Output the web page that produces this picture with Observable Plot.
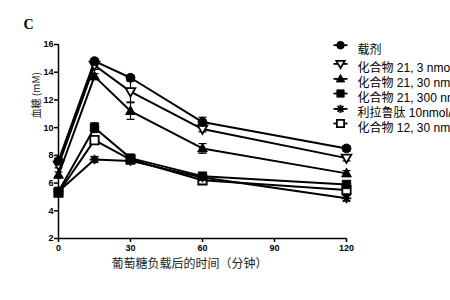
<!DOCTYPE html>
<html>
<head>
<meta charset="utf-8">
<script src="https://cdn.jsdelivr.net/npm/d3@7"></script>
<script src="https://cdn.jsdelivr.net/npm/@observablehq/plot@0.6"></script>
<style>
  html, body { margin: 0; padding: 0; background: #fff; }
</style>
</head>
<body>
<div id="chart"></div>
<script>
// ---- data ----
const times = [0, 15, 30, 60, 120];
const seriesNames = [
  "载剂",
  "化合物 21, 3 nmol/kg",
  "化合物 21, 30 nmol/kg",
  "化合物 21, 300 nmol/kg",
  "利拉鲁肽 10nmol/kg",
  "化合物 12, 30 nmol/kg"
];
const vehicle   = [7.6, 14.8, 13.6, 10.4, 8.5];
const c21_3     = [7.3, 14.5, 12.6, 9.9, 7.8];
const c21_30    = [6.6, 13.7, 11.2, 8.5, 6.7];
const c21_300   = [5.4, 10.0, 7.8, 6.5, 5.9];
const lira      = [5.4, 7.7, 7.6, 6.4, 4.9];
const c12_30    = [5.3, 9.1, 7.7, 6.2, 5.5];
const vehicleErr = [0.2, 0.2, 0.2, 0.35, 0.2];
const c21_3Err   = [0.2, 0.3, 0.75, 0.2, 0.2];
const c21_30Err  = [0.2, 0.2, 0.6, 0.35, 0.2];
const c21_300Err = [0.2, 0.35, 0.2, 0.2, 0.2];
const liraErr    = [0.2, 0.2, 0.2, 0.2, 0.2];
const c12_30Err  = [0.2, 0.3, 0.2, 0.2, 0.2];
const yTicks = [2, 4, 6, 8, 10, 12, 14, 16];
const xTicks = [0, 30, 60, 90, 120];
const panelLabel = "C";
const xLabel = "葡萄糖负载后的时间（分钟）";
const yLabel = "血糖 (mM)";

const values = [vehicle, c21_3, c21_30, c21_300, lira, c12_30];
const errs = [vehicleErr, c21_3Err, c21_30Err, c21_300Err, liraErr, c12_30Err];

// ---- custom symbols ----
const triDown = { draw(ctx, size) { const r = Math.sqrt(size / Math.PI);
  ctx.moveTo(0, r * 1.1); ctx.lineTo(-r * 1.1, -r * 0.8); ctx.lineTo(r * 1.1, -r * 0.8); ctx.closePath(); } };
const triUp = { draw(ctx, size) { const r = Math.sqrt(size / Math.PI);
  ctx.moveTo(0, -r * 1.15); ctx.lineTo(-r * 1.1, r * 0.8); ctx.lineTo(r * 1.1, r * 0.8); ctx.closePath(); } };
const sq = { draw(ctx, size) { const r = Math.sqrt(size / Math.PI) * 0.95;
  ctx.rect(-r, -r, 2 * r, 2 * r); } };
const star8 = { draw(ctx, size) { const r = Math.sqrt(size / Math.PI) * 1.1;
  for (let k = 0; k < 4; k++) { const a = k * Math.PI / 4;
    ctx.moveTo(-r * Math.cos(a), -r * Math.sin(a)); ctx.lineTo(r * Math.cos(a), r * Math.sin(a)); } } };
const cap = { draw(ctx, size) { ctx.moveTo(-4, 0); ctx.lineTo(4, 0); } };
const legLine = { draw(ctx, size) { ctx.moveTo(-7, 0); ctx.lineTo(7, 0); } };

const styles = [
  { symbol: "circle", fill: "black", stroke: "black", sw: 1 },
  { symbol: triDown, fill: "white", stroke: "black", sw: 1.8 },
  { symbol: triUp, fill: "black", stroke: "black", sw: 1 },
  { symbol: sq, fill: "black", stroke: "black", sw: 1 },
  { symbol: star8, fill: "none", stroke: "black", sw: 1.8 },
  { symbol: sq, fill: "white", stroke: "black", sw: 1.8 }
];

const rows = seriesNames.flatMap((name, i) =>
  times.map((t, j) => ({ series: name, idx: i, t, v: values[i][j], e: errs[i][j] })));

const legendDy = [0.7, 19.4, 34.4, 49, 64.4, 79];

const marks = [
  // axes lines
  Plot.ruleX([xTicks[0]], { y1: yTicks[0], y2: yTicks[yTicks.length - 1], stroke: "black", strokeWidth: 1.5 }),
  Plot.ruleY([yTicks[0]], { x1: xTicks[0], x2: xTicks[xTicks.length - 1], stroke: "black", strokeWidth: 1.5 }),
  Plot.axisY({ ticks: yTicks, tickSize: 4, tickPadding: 1, fontSize: 9, fontWeight: "bold", strokeWidth: 1.5, label: null }),
  Plot.axisX({ ticks: xTicks, tickSize: 4, tickPadding: 2, fontSize: 9, fontWeight: "bold", strokeWidth: 1.5, label: null }),
  // error bars
  Plot.ruleX(rows, { x: "t", y1: d => d.v - d.e, y2: d => d.v + d.e, stroke: "black", strokeWidth: 1.2 }),
  Plot.dot(rows, { x: "t", y: d => d.v + d.e, symbol: cap, stroke: "black", strokeWidth: 1.2 }),
  Plot.dot(rows, { x: "t", y: d => d.v - d.e, symbol: cap, stroke: "black", strokeWidth: 1.2 }),
  // lines
  Plot.line(rows, { x: "t", y: "v", z: "series", stroke: "black", strokeWidth: 2 }),
];
// markers in reverse so top series drawn last
for (let i = seriesNames.length - 1; i >= 0; i--) {
  const s = styles[i];
  marks.push(Plot.dot(rows.filter(d => d.idx === i), {
    x: "t", y: "v", r: 4.4, symbol: s.symbol, fill: s.fill, stroke: s.stroke, strokeWidth: s.sw
  }));
}
// legend
seriesNames.forEach((name, i) => {
  const s = styles[i];
  marks.push(Plot.dot([name], { frameAnchor: "top-right", dx: -6, dy: legendDy[i], symbol: legLine, stroke: "black", strokeWidth: 1.8 }));
  marks.push(Plot.dot([name], { frameAnchor: "top-right", dx: -6, dy: legendDy[i], r: 3.8, symbol: s.symbol, fill: s.fill, stroke: s.stroke, strokeWidth: s.sw }));
  marks.push(Plot.text([name], { frameAnchor: "top-right", dx: 11, dy: legendDy[i], text: d => d, textAnchor: "start", fontSize: 12, fill: "black",
    fontFamily: "Liberation Sans, 'Noto Sans CJK SC', sans-serif" }));
});
// labels
marks.push(Plot.text([panelLabel], { frameAnchor: "top-left", dx: -35, dy: -25, text: d => d, fontSize: 14, fontWeight: "bold", fontFamily: "Liberation Serif, serif", fill: "black" }));
marks.push(Plot.text([xLabel], { frameAnchor: "bottom", dx: -13, dy: 29, text: d => d, fontSize: 12, fontFamily: "'Noto Sans CJK SC', sans-serif", fill: "#222" }));
marks.push(Plot.text([yLabel], { frameAnchor: "left", dx: -22, dy: -23, rotate: -90, text: d => d, fontSize: 10, fontFamily: "'Noto Sans CJK SC', Liberation Sans, sans-serif", fill: "#222" }));

const chart = Plot.plot({
  width: 450,
  height: 300,
  marginLeft: 58,
  marginRight: 104,
  marginTop: 44,
  marginBottom: 62,
  x: { domain: [xTicks[0], xTicks[xTicks.length - 1]] },
  y: { domain: [yTicks[0], yTicks[yTicks.length - 1]] },
  style: { fontFamily: "Liberation Sans, Arial, sans-serif", background: "white", color: "black", overflow: "hidden" },
  marks
});
document.getElementById("chart").appendChild(chart);
</script>
</body>
</html>
